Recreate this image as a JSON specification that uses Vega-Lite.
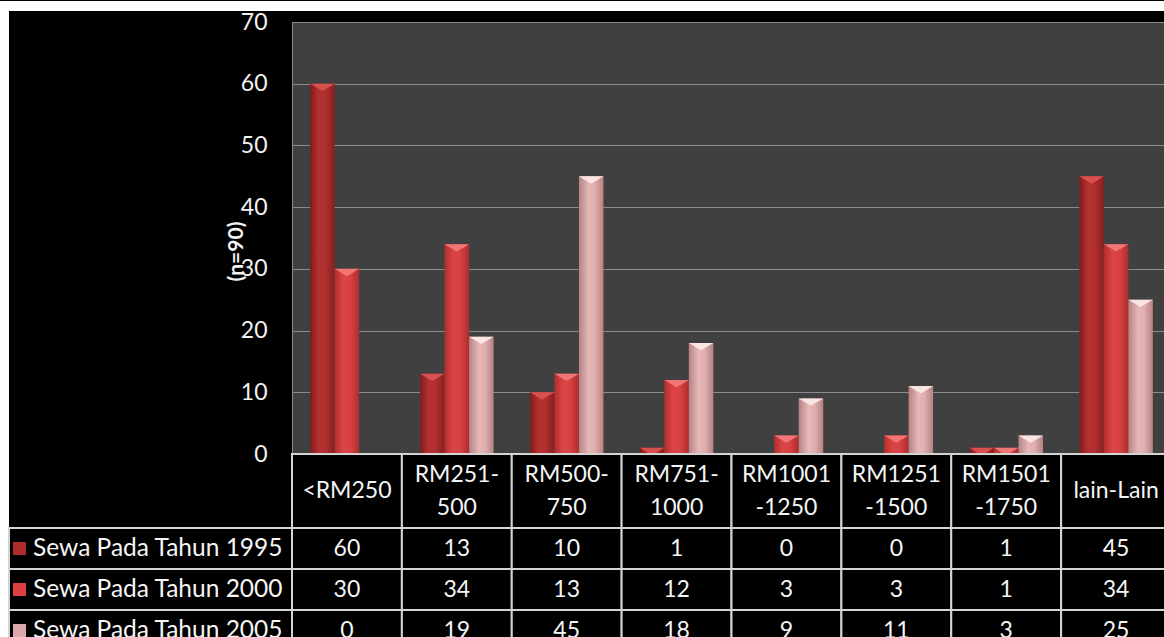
{
  "$schema": "https://vega.github.io/schema/vega-lite/v6.json",
  "background": "black",
  "padding": {"left": 0, "top": 0, "right": -2, "bottom": -14},
  "autosize": {"type": "pad"},
  "columns": 3,
  "spacing": 0,
  "bounds": "flush",
  "align": "each",
  "resolve": {"scale": {"color": "independent"}},
  "config": {"font": "Lato"},
  "datasets": {
    "rent": [
      {"cat": "<RM250", "series": "Sewa Pada Tahun 1995", "value": 60},
      {"cat": "RM251-500", "series": "Sewa Pada Tahun 1995", "value": 13},
      {"cat": "RM500-750", "series": "Sewa Pada Tahun 1995", "value": 10},
      {"cat": "RM751-1000", "series": "Sewa Pada Tahun 1995", "value": 1},
      {"cat": "RM1001-1250", "series": "Sewa Pada Tahun 1995", "value": 0},
      {"cat": "RM1251-1500", "series": "Sewa Pada Tahun 1995", "value": 0},
      {"cat": "RM1501-1750", "series": "Sewa Pada Tahun 1995", "value": 1},
      {"cat": "lain-Lain", "series": "Sewa Pada Tahun 1995", "value": 45},
      {"cat": "<RM250", "series": "Sewa Pada Tahun 2000", "value": 30},
      {"cat": "RM251-500", "series": "Sewa Pada Tahun 2000", "value": 34},
      {"cat": "RM500-750", "series": "Sewa Pada Tahun 2000", "value": 13},
      {"cat": "RM751-1000", "series": "Sewa Pada Tahun 2000", "value": 12},
      {"cat": "RM1001-1250", "series": "Sewa Pada Tahun 2000", "value": 3},
      {"cat": "RM1251-1500", "series": "Sewa Pada Tahun 2000", "value": 3},
      {"cat": "RM1501-1750", "series": "Sewa Pada Tahun 2000", "value": 1},
      {"cat": "lain-Lain", "series": "Sewa Pada Tahun 2000", "value": 34},
      {"cat": "<RM250", "series": "Sewa Pada Tahun 2005", "value": 0},
      {"cat": "RM251-500", "series": "Sewa Pada Tahun 2005", "value": 19},
      {"cat": "RM500-750", "series": "Sewa Pada Tahun 2005", "value": 45},
      {"cat": "RM751-1000", "series": "Sewa Pada Tahun 2005", "value": 18},
      {"cat": "RM1001-1250", "series": "Sewa Pada Tahun 2005", "value": 9},
      {"cat": "RM1251-1500", "series": "Sewa Pada Tahun 2005", "value": 11},
      {"cat": "RM1501-1750", "series": "Sewa Pada Tahun 2005", "value": 3},
      {"cat": "lain-Lain", "series": "Sewa Pada Tahun 2005", "value": 25}
    ],
    "cats": [
      {"cat": "<RM250", "head": "<RM250"},
      {"cat": "RM251-500", "head": "RM251-\n500"},
      {"cat": "RM500-750", "head": "RM500-\n750"},
      {"cat": "RM751-1000", "head": "RM751-\n1000"},
      {"cat": "RM1001-1250", "head": "RM1001\n-1250"},
      {"cat": "RM1251-1500", "head": "RM1251\n-1500"},
      {"cat": "RM1501-1750", "head": "RM1501\n-1750"},
      {"cat": "lain-Lain", "head": "lain-Lain"}
    ],
    "series": [
      {"series": "Sewa Pada Tahun 1995"},
      {"series": "Sewa Pada Tahun 2000"},
      {"series": "Sewa Pada Tahun 2005"}
    ]
  },
  "concat": [
    {"width": 9, "height": 10, "data": {"values": [{}]}, "view": {"fill": "white", "stroke": null}, "mark": "text", "encoding": {"text": {"value": ""}}},
    {"width": 283, "height": 10, "data": {"values": [{}]}, "view": {"fill": "white", "stroke": null}, "mark": "text", "encoding": {"text": {"value": ""}}},
    {"width": 879, "height": 10, "data": {"values": [{}]}, "view": {"fill": "white", "stroke": null}, "mark": "text", "encoding": {"text": {"value": ""}}},

    {"width": 9, "height": 11, "data": {"values": [{}]}, "view": {"fill": "white", "stroke": null}, "mark": "text", "encoding": {"text": {"value": ""}}},
    {"width": 283, "height": 11, "data": {"values": [{}]}, "view": {"fill": null, "stroke": null}, "mark": "text", "encoding": {"text": {"value": ""}}},
    {"width": 879, "height": 11, "data": {"values": [{}]}, "view": {"fill": null, "stroke": null}, "mark": "text", "encoding": {"text": {"value": ""}}},

    {"width": 9, "height": 432, "data": {"values": [{}]}, "view": {"fill": "white", "stroke": null}, "mark": "text", "encoding": {"text": {"value": ""}}},
    {"width": 283, "height": 432, "data": {"values": [{}]}, "view": {"fill": null, "stroke": null}, "mark": "text", "encoding": {"text": {"value": ""}}},
    {
      "width": 879, "height": 432,
      "data": {"name": "rent"},
      "view": {"fill": "#404040", "stroke": null},
      "encoding": {
        "x": {"field": "cat", "type": "nominal",
              "sort": ["<RM250","RM251-500","RM500-750","RM751-1000","RM1001-1250","RM1251-1500","RM1501-1750","lain-Lain"],
              "scale": {"type": "band", "paddingInner": 0, "paddingOuter": 0}, "axis": null},
        "xOffset": {"field": "series", "type": "nominal",
              "sort": ["Sewa Pada Tahun 1995","Sewa Pada Tahun 2000","Sewa Pada Tahun 2005"],
              "scale": {"type": "band", "paddingInner": 0, "paddingOuter": 0.74}},
        "y": {"field": "value", "type": "quantitative",
              "scale": {"domain": [0, 70], "nice": false},
              "axis": {
                "values": [0, 10, 20, 30, 40, 50, 60, 70],
                "grid": true, "gridColor": "#8c8c8c", "gridWidth": 1,
                "ticks": false, "tickSize": 0,
                "domain": true, "domainColor": "#8c8c8c", "domainWidth": 1,
                "labelColor": "#f2f2f2", "labelFont": "Lato", "labelFontSize": 23,
                "labelPadding": 25, "labelFlush": false,
                "title": "(n=90)", "titleFont": "Lato", "titleFontSize": 21, "titleFontWeight": "bold",
                "titleColor": "#f2f2f2", "titleAngle": -90, "titleX": -56, "titleY": 229,
                "titleAlign": "center", "titleBaseline": "middle"
              }}
      },
      "layer": [
        {
          "transform": [{"filter": "datum.series == 'Sewa Pada Tahun 1995'"}],
          "mark": {"type": "bar", "color": {"gradient": "linear", "x1": 0, "y1": 0, "x2": 1, "y2": 0,
            "stops": [{"offset": 0, "color": "#7e1c1c"}, {"offset": 0.35, "color": "#b53131"}, {"offset": 0.65, "color": "#b02f2f"}, {"offset": 1, "color": "#861f1f"}]}}
        },
        {
          "transform": [{"filter": "datum.series == 'Sewa Pada Tahun 2000'"}],
          "mark": {"type": "bar", "color": {"gradient": "linear", "x1": 0, "y1": 0, "x2": 1, "y2": 0,
            "stops": [{"offset": 0, "color": "#b02e2e"}, {"offset": 0.35, "color": "#dc4545"}, {"offset": 0.65, "color": "#d84141"}, {"offset": 1, "color": "#ad2d2d"}]}}
        },
        {
          "transform": [{"filter": "datum.series == 'Sewa Pada Tahun 2005'"}],
          "mark": {"type": "bar", "color": {"gradient": "linear", "x1": 0, "y1": 0, "x2": 1, "y2": 0,
            "stops": [{"offset": 0, "color": "#b68383"}, {"offset": 0.4, "color": "#e6b8b8"}, {"offset": 0.65, "color": "#e0aeae"}, {"offset": 1, "color": "#b58282"}]}}
        },
        {
          "transform": [{"filter": "datum.value > 0"}],
          "mark": {"type": "point", "shape": "M -1 0 L 1 0 L 0 0.6 Z", "filled": true, "size": 600, "opacity": 1, "strokeWidth": 0},
          "encoding": {
            "color": {"field": "series", "type": "nominal",
              "scale": {"domain": ["Sewa Pada Tahun 1995","Sewa Pada Tahun 2000","Sewa Pada Tahun 2005"],
                        "range": ["#d9504f", "#f27676", "#fbe4e4"]},
              "legend": null}
          }
        }
      ]
    },

    {"width": 9, "height": 74, "data": {"values": [{}]}, "view": {"fill": "white", "stroke": null}, "mark": "text", "encoding": {"text": {"value": ""}}},
    {"width": 283, "height": 74, "data": {"values": [{}]}, "view": {"fill": null, "stroke": null}, "mark": "text", "encoding": {"text": {"value": ""}}},
    {
      "width": 879, "height": 74,
      "data": {"name": "cats"},
      "view": {"fill": null, "stroke": null},
      "encoding": {
        "x": {"field": "cat", "type": "nominal",
              "sort": ["<RM250","RM251-500","RM500-750","RM751-1000","RM1001-1250","RM1251-1500","RM1501-1750","lain-Lain"],
              "scale": {"type": "band", "paddingInner": 0, "paddingOuter": 0}, "axis": null}
      },
      "layer": [
        {"mark": {"type": "rect", "fill": "black", "stroke": "#d4d4d4", "strokeWidth": 2}},
        {"transform": [{"filter": "indexof(datum.head, '\\n') < 0"}],
         "mark": {"type": "text", "font": "Lato", "fontSize": 23, "color": "#f5f5f5", "baseline": "middle"},
         "encoding": {"text": {"field": "head"}}},
        {"transform": [{"filter": "indexof(datum.head, '\\n') >= 0"}],
         "mark": {"type": "text", "lineBreak": "\n", "font": "Lato", "fontSize": 23, "lineHeight": 33, "dy": -16, "color": "#f5f5f5", "baseline": "middle"},
         "encoding": {"text": {"field": "head"}}}
      ]
    },

    {"width": 9, "height": 123, "data": {"values": [{}]}, "view": {"fill": "white", "stroke": null}, "mark": "text", "encoding": {"text": {"value": ""}}},
    {
      "width": 283, "height": 123,
      "data": {"name": "series"},
      "view": {"fill": null, "stroke": null},
      "encoding": {
        "y": {"field": "series", "type": "nominal",
              "sort": ["Sewa Pada Tahun 1995","Sewa Pada Tahun 2000","Sewa Pada Tahun 2005"],
              "scale": {"type": "band", "paddingInner": 0, "paddingOuter": 0}, "axis": null}
      },
      "layer": [
        {"mark": {"type": "rect", "fill": "black", "stroke": "#d4d4d4", "strokeWidth": 2}},
        {"mark": {"type": "point", "shape": "square", "filled": true, "size": 170, "opacity": 1, "strokeWidth": 0},
         "encoding": {
           "x": {"datum": "key", "type": "nominal", "scale": {"type": "point", "domain": ["key", "name"], "range": [10.5, 24], "padding": 0}, "axis": null},
           "color": {"field": "series", "type": "nominal",
             "scale": {"domain": ["Sewa Pada Tahun 1995","Sewa Pada Tahun 2000","Sewa Pada Tahun 2005"],
                       "range": ["#b02c2c", "#dc4040", "#dcaaaa"]},
             "legend": null}
         }},
        {"mark": {"type": "text", "align": "left", "baseline": "middle", "font": "Lato", "fontSize": 24.5, "color": "#f5f5f5"},
         "encoding": {
           "x": {"datum": "name", "type": "nominal"},
           "text": {"field": "series"}
         }}
      ]
    },
    {
      "width": 879, "height": 123,
      "data": {"name": "rent"},
      "view": {"fill": null, "stroke": null},
      "encoding": {
        "x": {"field": "cat", "type": "nominal",
              "sort": ["<RM250","RM251-500","RM500-750","RM751-1000","RM1001-1250","RM1251-1500","RM1501-1750","lain-Lain"],
              "scale": {"type": "band", "paddingInner": 0, "paddingOuter": 0}, "axis": null},
        "y": {"field": "series", "type": "nominal",
              "sort": ["Sewa Pada Tahun 1995","Sewa Pada Tahun 2000","Sewa Pada Tahun 2005"],
              "scale": {"type": "band", "paddingInner": 0, "paddingOuter": 0}, "axis": null}
      },
      "layer": [
        {"mark": {"type": "rect", "fill": "black", "stroke": "#d4d4d4", "strokeWidth": 2}},
        {"mark": {"type": "text", "font": "Lato", "fontSize": 23, "color": "#f5f5f5", "baseline": "middle"},
         "encoding": {"text": {"field": "value", "type": "quantitative"}}}
      ]
    }
  ]
}
